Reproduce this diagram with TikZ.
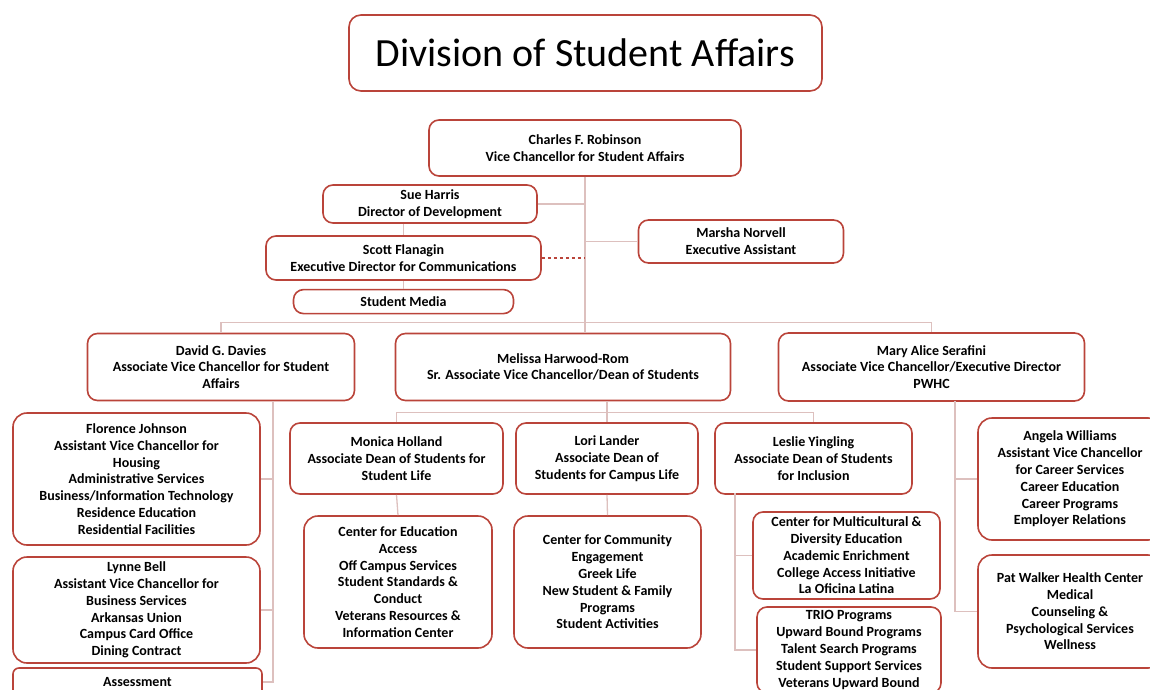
\documentclass[tikz,border=0pt]{standalone}
\usepackage{fontspec}
\setmainfont{Carlito}
\usepackage{xcolor}
\usepackage{tikz}
\definecolor{boxred}{RGB}{186, 68, 58}
\definecolor{linepink}{RGB}{221, 192, 190}
\usetikzlibrary{positioning, calc}

\begin{document}
\begin{tikzpicture}[
        x=1pt, y=-1pt,
        box/.style={rectangle, draw=boxred, fill=white, line width=1.6pt,
                    rounded corners=10pt, align=center, inner sep=2pt,
                    font=\bfseries\fontsize{14}{16.8}\selectfont},
        line/.style={draw=linepink, line width=1.3pt},
        dotline/.style={draw=boxred, line width=1.2pt, dash pattern=on 3pt off 3pt}
    ]
        \path[use as bounding box, clip] (0,0) rectangle (1150,690);

        % heading
        \node[box, minimum width=473pt, minimum height=76pt, rounded corners=12pt,
              font=\fontsize{40}{48}\selectfont] (title) at (585.5,53) {Division of Student Affairs};

        % top level
        \node[box, minimum width=312pt, minimum height=56pt] (robinson) at (585,148) {Charles F. Robinson\\Vice Chancellor for Student Affairs};
        \node[box, minimum width=214pt, minimum height=38pt] (harris) at (430,204) {Sue Harris\\Director of Development};
        \node[box, minimum width=275pt, minimum height=44pt] (flanagin) at (403.5,258) {Scott Flanagin\\Executive Director for Communications};
        \node[box, minimum width=220pt, minimum height=24pt, below=8pt of flanagin] (media) {Student Media};
        \node[box, minimum width=205pt, minimum height=43pt] (norvell) at (741,241.5) {Marsha Norvell\\Executive Assistant};

        % associate vice chancellors
        \node[box, minimum width=267pt, minimum height=67pt] (davies) at (221,367) {David G. Davies\\Associate Vice Chancellor for Student\\Affairs};
        \node[box, minimum width=335pt, minimum height=67pt] (harwood) at (563,367) {Melissa Harwood-Rom\\Sr. Associate Vice Chancellor/Dean of Students};
        \node[box, minimum width=306pt, minimum height=68pt] (serafini) at (931.5,367) {Mary Alice Serafini\\Associate Vice Chancellor/Executive Director\\PWHC};

        % under Davies
        \node[box, minimum width=247pt, minimum height=132pt, rounded corners=14pt] (johnson) at (136.5,479) {Florence Johnson\\Assistant Vice Chancellor for\\Housing\\Administrative Services\\Business/Information Technology\\Residence Education\\Residential Facilities};
        \node[box, minimum width=247pt, minimum height=106pt, rounded corners=14pt] (bell) at (136.5,610) {Lynne Bell\\Assistant Vice Chancellor for\\Business Services\\Arkansas Union\\Campus Card Office\\Dining Contract};
        \node[box, minimum width=249pt, minimum height=28pt, rounded corners=6pt] (assess) at (137.5,682) {Assessment};

        % under Harwood-Rom
        \node[box, minimum width=213pt, minimum height=71pt] (holland) at (396.5,458.5) {Monica Holland\\Associate Dean of Students for\\Student Life};
        \node[box, minimum width=182pt, minimum height=71pt] (lander) at (607,458.5) {Lori Lander\\Associate Dean of\\Students for Campus Life};
        \node[box, minimum width=197pt, minimum height=71pt] (yingling) at (813.5,458.5) {Leslie Yingling\\Associate Dean of Students\\for Inclusion};
        \node[box, minimum width=188pt, minimum height=132pt, rounded corners=14pt] (access) at (398,582) {Center for Education\\Access\\Off Campus Services\\Student Standards \&\\Conduct\\Veterans Resources \&\\Information Center};
        \node[box, minimum width=187pt, minimum height=132pt, rounded corners=14pt] (community) at (607.5,582) {Center for Community\\Engagement\\Greek Life\\New Student \& Family\\Programs\\Student Activities};
        \node[box, minimum width=187pt, minimum height=87pt] (diversity) at (846.5,555.5) {Center for Multicultural \&\\Diversity Education\\Academic Enrichment\\College Access Initiative\\La Oficina Latina};
        \node[box, minimum width=184pt, minimum height=86pt] (trio) at (849,650) {TRIO Programs\\Upward Bound Programs\\Talent Search Programs\\Student Support Services\\Veterans Upward Bound};

        % under Serafini
        \node[box, minimum width=184pt, minimum height=122pt, rounded corners=14pt] (williams) at (1070,479) {Angela Williams\\Assistant Vice Chancellor\\for Career Services\\Career Education\\Career Programs\\Employer Relations};
        \node[box, minimum width=184pt, minimum height=113pt, rounded corners=14pt] (walker) at (1070,611.5) {Pat Walker Health Center\\Medical\\Counseling \&\\Psychological Services\\Wellness};

        \coordinate (dtrunk) at (273,401);
        \coordinate (ltrunk) at (735,493);
        \coordinate (strunk) at (955,401);

        % connectors
        \draw[line] (robinson.south) -- (robinson.south |- harwood.north);
        \draw[line] (harris.east) -- (harris.east -| robinson.south);
        \draw[line] (norvell.west) -- (norvell.west -| robinson.south);
        \draw[dotline] (flanagin.east) -- (flanagin.east -| robinson.south);
        \draw[line] (harris.south -| flanagin.north) -- (flanagin.north);
        \draw[line] (flanagin.south) -- (media.north);
        \draw[line] (davies.north) -- ++(0,-10) -| (serafini.north);

        \draw[line] (dtrunk) |- (assess.east);
        \draw[line] (johnson.east) -- (johnson.east -| dtrunk);
        \draw[line] (bell.east) -- (bell.east -| dtrunk);

        \draw[line] (harwood.south -| lander.north) -- (lander.north);
        \draw[line] (holland.north) -- ++(0,-10) -| (yingling.north);
        \draw[line] (holland.south) -- (access.north);
        \draw[line] (lander.south) -- (community.north);
        \draw[line] (ltrunk) |- (trio.west);
        \draw[line] (diversity.west) -- (diversity.west -| ltrunk);

        \draw[line] (strunk) |- (walker.west);
        \draw[line] (williams.west) -- (williams.west -| strunk);
    \end{tikzpicture}
\end{document}
